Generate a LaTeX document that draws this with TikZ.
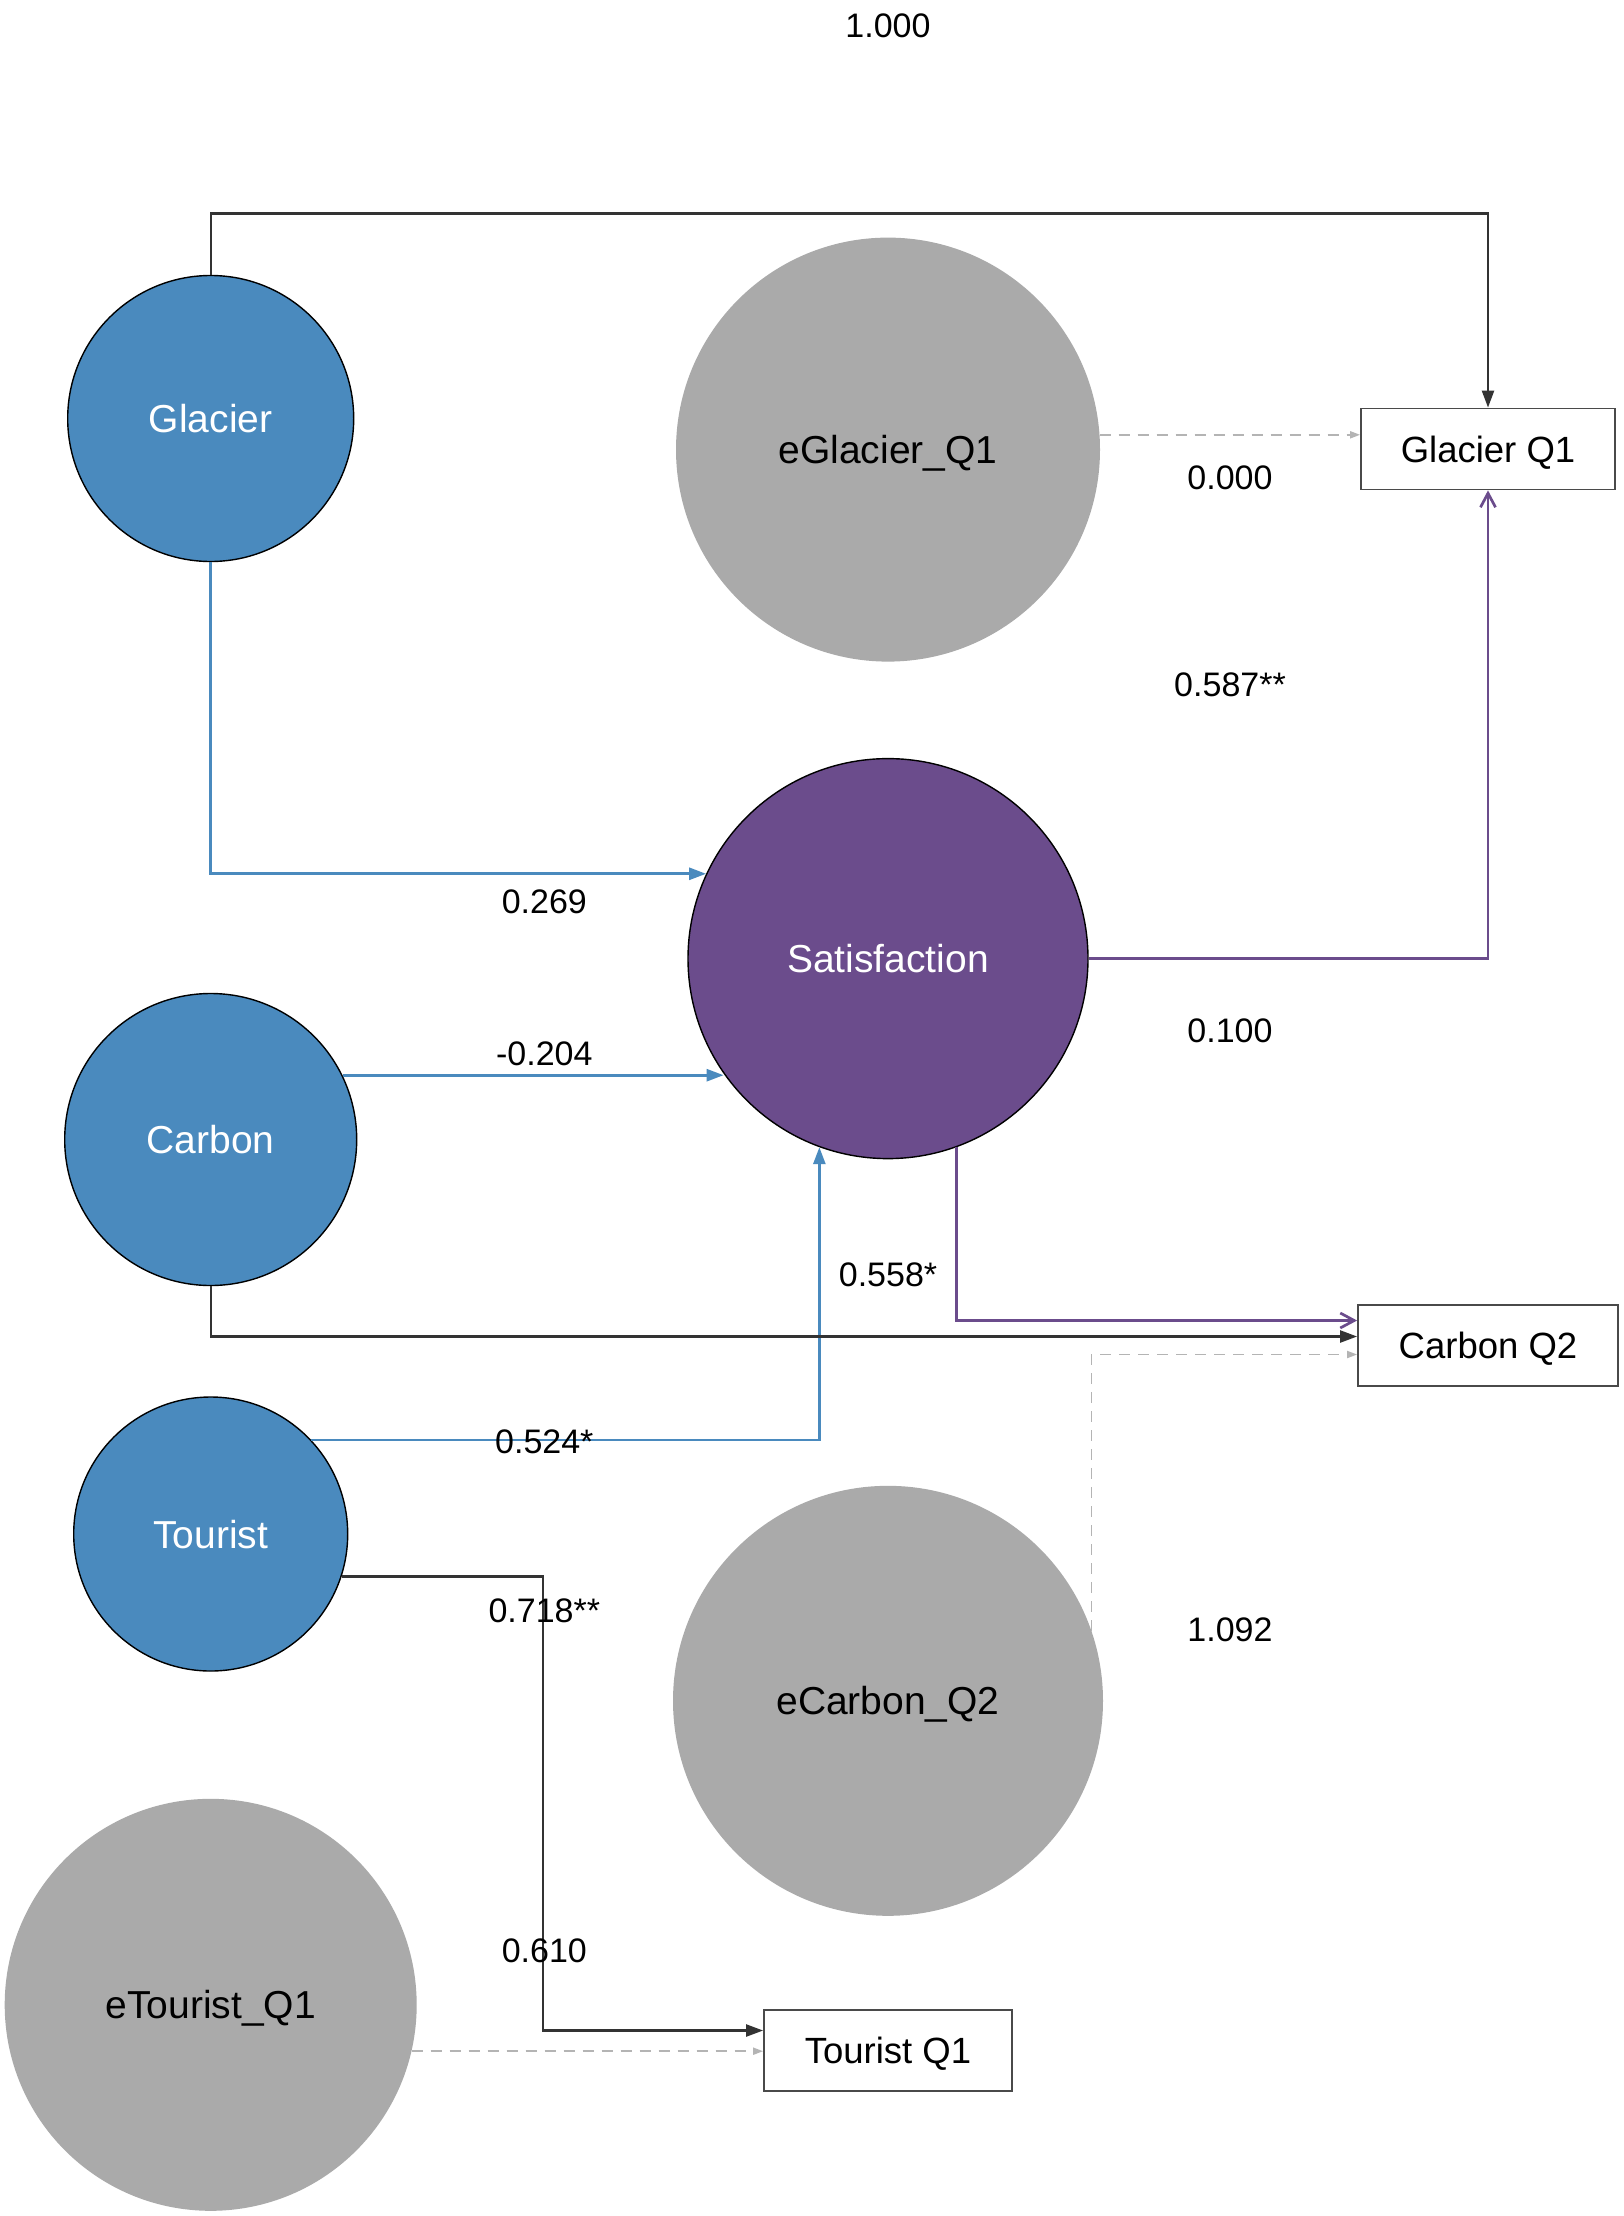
\documentclass[tikz,border=0pt]{standalone}
\usepackage{fontspec}
\setmainfont{Liberation Sans}
\usetikzlibrary{arrows.meta,calc}
\definecolor{lblue}{HTML}{4A8ABE}
\definecolor{lpurp}{HTML}{6B4C8C}
\definecolor{egray}{HTML}{AAAAAA}
\definecolor{edark}{HTML}{333333}
\definecolor{dgray}{HTML}{B4B4B4}
\definecolor{bgray}{HTML}{4A4A4A}
\tikzset{
  latent/.style={circle,draw=black,line width=1.4pt,fill=lblue,text=white,inner sep=0pt,text depth=0pt,font=\fontsize{39}{45}\selectfont},
  satnode/.style={latent,fill=lpurp},
  errnode/.style={circle,draw=none,fill=egray,text=black,inner sep=0pt,text depth=0pt,font=\fontsize{39}{45}\selectfont},
  obsbox/.style={rectangle,draw=bgray,line width=1.8pt,fill=white,inner sep=0pt,text depth=0pt,minimum height=81pt,font=\fontsize{36.5}{42}\selectfont},
  lab/.style={inner sep=0pt,font=\fontsize{34}{40}\selectfont},
  darkedge/.style={draw=edark,line width=2.3pt,-{Triangle[length=17pt,width=12pt]}},
  blueedge/.style={draw=lblue,line width=2.7pt,-{Triangle[length=17pt,width=12pt]}},
  purpedge/.style={draw=lpurp,line width=2.7pt,-{Straight Barb[length=14pt,width=15pt]}},
  dashedge/.style={draw=dgray,line width=1.8pt,dash pattern=on 11pt off 8pt,-{Triangle[length=10pt,width=7pt]}}
}
\begin{document}
\begin{tikzpicture}[x=1pt,y=-1pt]
\useasboundingbox[fill=white] (0,0) rectangle (1623,2216);
% nodes
\node[latent,minimum size=286pt] (G) at (210.7,418.5) {Glacier};
\node[latent,minimum size=292pt] (C) at (210.7,1139.5) {Carbon};
\node[latent,minimum size=274pt] (T) at (210.7,1534) {Tourist};
\node[satnode,minimum size=400pt] (S) at (888,958.6) {Satisfaction};
\node[errnode,minimum size=424pt] (eG) at (888,449.6) {eGlacier\_Q1};
\node[errnode,minimum size=430pt] (eC) at (888,1700.8) {eCarbon\_Q2};
\node[errnode,minimum size=412pt] (eT) at (210.7,2004.8) {eTourist\_Q1};
\node[obsbox,minimum width=254pt] (GQ1) at (1488,449) {Glacier Q1};
\node[obsbox,minimum width=260pt] (CQ2) at (1488,1345.5) {Carbon Q2};
\node[obsbox,minimum width=248pt] (TQ1) at (888,2050.5) {Tourist Q1};
% connectors
\draw[darkedge] (G.north) |- (GQ1.north |- 0,213.5) -- (GQ1.north);
\draw[dashedge] (eG.4) -- (eG.4 -| GQ1.west);
\draw[purpedge] (S.east) -| (GQ1.south);
\draw[blueedge] (G.south) |- (S.155);
\draw[blueedge] (C.26) -- (S.215 |- C.26);
\draw[blueedge] (T.43) -| (S.250);
\draw[purpedge] (S.290) |- ($(CQ2.west)+(0,-25)$);
\draw[darkedge] (C.south) |- ($(CQ2.west)+(0,-9)$);
\draw[dashedge] (eC.19) |- ($(CQ2.west)+(0,9)$);
\coordinate (tq) at ($(TQ1.west)+(-220,-20)$);
\draw[darkedge] (T.-18) -| (tq) -- (tq -| TQ1.west);
\draw[dashedge] (eT.-13) -- (eT.-13 -| TQ1.west);
% labels
\node[lab] (l1) at (888,25.4) {1.000};
\node[lab] (l2) at (1230,477.9) {0.000};
\node[lab] (l3) at (1230,684.3) {0.587**};
\node[lab] (l4) at (544.3,902) {0.269};
\node[lab] (l5) at (544.3,1053.3) {-0.204};
\node[lab] (l6) at (1230,1030.7) {0.100};
\node[lab] (l7) at (888,1275.2) {0.558*};
\node[lab] (l8) at (544.3,1442) {0.524*};
\node[lab] (l9) at (1230,1630) {1.092};
\node[lab] (l10) at (544.3,1610.3) {0.718**};
\node[lab] (l11) at (544.3,1951) {0.610};
\end{tikzpicture}
\end{document}
